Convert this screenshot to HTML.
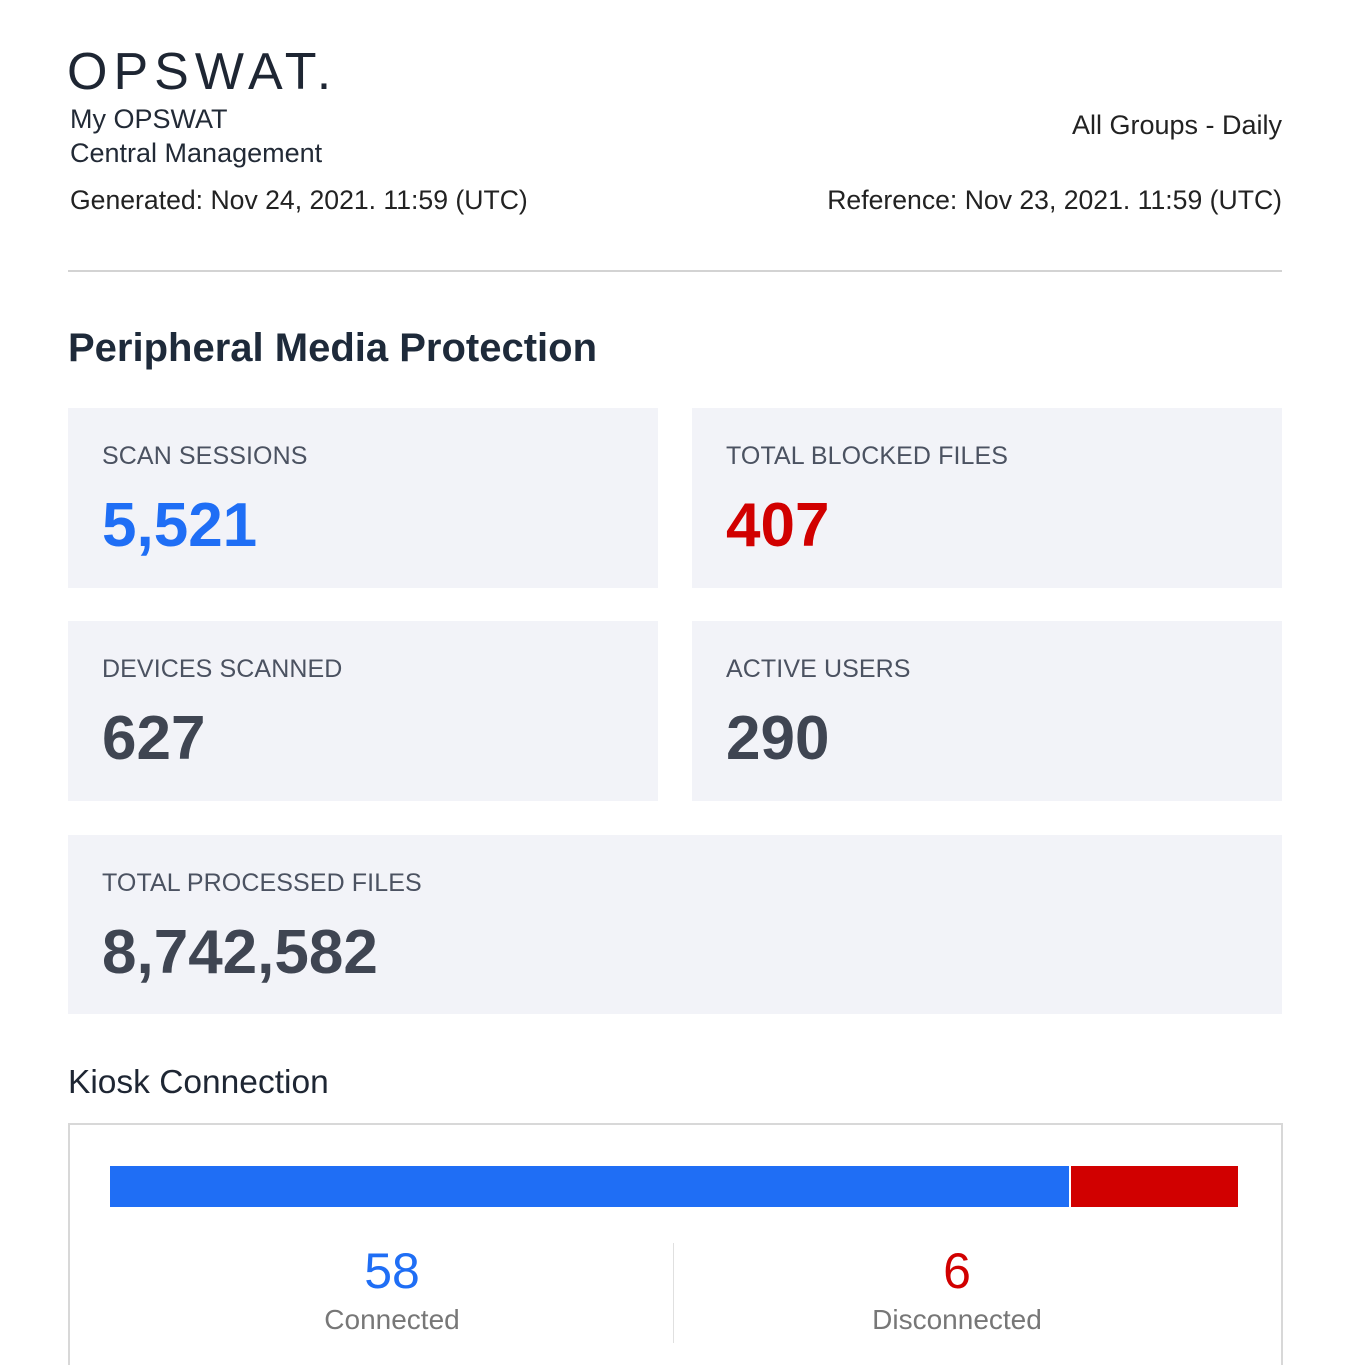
<!DOCTYPE html>
<html><head><style>
body{margin:0;width:1350px;height:1350px;background:#fff;position:relative;overflow:hidden;font-family:"Liberation Sans",sans-serif;color:#1e2633}
.a{position:absolute;white-space:nowrap}
.card{position:absolute;background:#f2f3f8}
.lbl{position:absolute;left:34px;top:34px;font-size:25px;color:#4b5261;letter-spacing:0.1px}
.num{position:absolute;left:34px;top:82px;font-size:62px;font-weight:bold;color:#3f4552}
</style></head><body>
<div class="a" style="left:67px;top:42px;font-size:52px;letter-spacing:6px;color:#1e2633;font-weight:300">OPSWAT.</div>
<div class="a" style="left:70px;top:102px;font-size:27px;line-height:34px;color:#222a36">My OPSWAT<br>Central Management</div>
<div class="a" style="right:68px;top:110px;font-size:27px;color:#222">All Groups - Daily</div>
<div class="a" style="left:70px;top:185px;font-size:26.6px;color:#222">Generated: Nov 24, 2021. 11:59 (UTC)</div>
<div class="a" style="right:68px;top:185px;font-size:26.6px;color:#222">Reference: Nov 23, 2021. 11:59 (UTC)</div>
<div class="a" style="left:68px;top:270px;width:1214px;height:2px;background:#d3d3d3"></div>
<div class="a" style="left:68px;top:326px;font-size:40px;font-weight:bold;color:#1e2a3a">Peripheral Media Protection</div>

<div class="card" style="left:68px;top:408px;width:590px;height:180px"><div class="lbl">SCAN SESSIONS</div><div class="num" style="color:#1f6ef5">5,521</div></div>
<div class="card" style="left:692px;top:408px;width:590px;height:180px"><div class="lbl">TOTAL BLOCKED FILES</div><div class="num" style="color:#d10000">407</div></div>
<div class="card" style="left:68px;top:621px;width:590px;height:180px"><div class="lbl">DEVICES SCANNED</div><div class="num">627</div></div>
<div class="card" style="left:692px;top:621px;width:590px;height:180px"><div class="lbl">ACTIVE USERS</div><div class="num">290</div></div>
<div class="card" style="left:68px;top:835px;width:1214px;height:179px"><div class="lbl">TOTAL PROCESSED FILES</div><div class="num">8,742,582</div></div>

<div class="a" style="left:68px;top:1064px;font-size:33.5px;color:#1e2633">Kiosk Connection</div>
<div class="a" style="left:68px;top:1123px;width:1211px;height:240px;border:2px solid #d8d8d8;border-bottom:none"></div>
<div class="a" style="left:110px;top:1166px;width:959px;height:41px;background:#1f6ef5"></div>
<div class="a" style="left:1071px;top:1166px;width:167px;height:41px;background:#d10000"></div>
<div class="a" style="left:673px;top:1243px;width:1px;height:100px;background:#e0e0e0"></div>
<div class="a" style="left:292px;width:200px;text-align:center;top:1242px;font-size:50px;color:#1f6ef5">58</div>
<div class="a" style="left:292px;width:200px;text-align:center;top:1304px;font-size:28px;color:#777">Connected</div>
<div class="a" style="left:857px;width:200px;text-align:center;top:1242px;font-size:50px;color:#d10000">6</div>
<div class="a" style="left:857px;width:200px;text-align:center;top:1304px;font-size:28px;color:#777">Disconnected</div>
</body></html>
